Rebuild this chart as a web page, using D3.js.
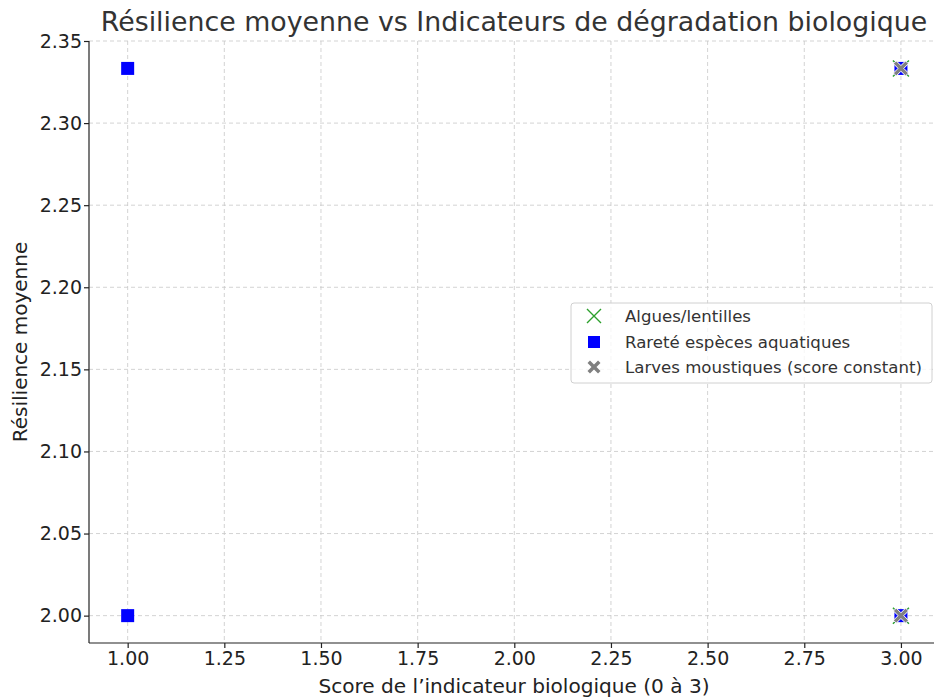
<!DOCTYPE html>
<html>
<head>
<meta charset="utf-8">
<title>Résilience moyenne vs Indicateurs</title>
<script src="https://cdn.jsdelivr.net/npm/d3@7"></script>
<style>
body { margin: 0; background: #fff; }
text { font-family: "DejaVu Sans", sans-serif; }
.grid line { stroke: #c8c8c8; stroke-dasharray: 4,3; stroke-width: 0.8; }
.axis text { font-size: 19px; fill: #222; }
.axis path, .axis line { stroke: #222; stroke-width: 1.2; }
</style>
</head>
<body>
<script>
// données
var alguesX = [3, 3];
var alguesY = [2.0, 2.3333];
var rareteX = [1, 1, 3, 3];
var rareteY = [2.3333, 2.0, 2.3333, 2.0];
var larvesX = [3, 3];
var larvesY = [2.3333, 2.0];
var xTicks = [1.00, 1.25, 1.50, 1.75, 2.00, 2.25, 2.50, 2.75, 3.00];
var yTicks = [2.00, 2.05, 2.10, 2.15, 2.20, 2.25, 2.30, 2.35];
var legendLabels = ["Algues/lentilles", "Rareté espèces aquatiques", "Larves moustiques (score constant)"];

var W = 934, H = 700;
var svg = d3.select("body").append("svg").attr("width", W).attr("height", H);

var pLeft = 89, pRight = 939.6, pTop = 41, pBottom = 643;
var x = d3.scaleLinear().domain([0.9, 3.1]).range([pLeft, pRight]);
var y = d3.scaleLinear().domain([1.98333, 2.35]).range([pBottom, pTop]);

// grille
var grid = svg.append("g").attr("class", "grid");
grid.selectAll(".gx").data(xTicks).enter().append("line")
  .attr("x1", d => x(d)).attr("x2", d => x(d)).attr("y1", pTop).attr("y2", pBottom);
grid.selectAll(".gy").data(yTicks).enter().append("line")
  .attr("y1", d => y(d)).attr("y2", d => y(d)).attr("x1", pLeft).attr("x2", pRight);

// axes
svg.append("g").attr("class", "axis").attr("transform", "translate(0," + pBottom + ")")
  .call(d3.axisBottom(x).tickValues(xTicks).tickFormat(d3.format(".2f")).tickSizeOuter(0).tickSize(5).tickPadding(3.5));
svg.append("g").attr("class", "axis").attr("transform", "translate(" + pLeft + ",0)")
  .call(d3.axisLeft(y).tickValues(yTicks).tickFormat(d3.format(".2f")).tickSizeOuter(0).tickSize(5).tickPadding(2));
svg.selectAll(".axis .domain").remove();
svg.append("line").attr("x1", pLeft).attr("x2", pLeft).attr("y1", pTop).attr("y2", pBottom).attr("stroke", "#222").attr("stroke-width", 1.2);
svg.append("line").attr("x1", pLeft).attr("x2", pRight).attr("y1", pBottom).attr("y2", pBottom).attr("stroke", "#222").attr("stroke-width", 1.2);

// marqueurs
function drawX(g, cx, cy, r, col) {
  g.append("path").attr("d", "M" + (cx - r) + "," + (cy - r) + "L" + (cx + r) + "," + (cy + r) +
    "M" + (cx - r) + "," + (cy + r) + "L" + (cx + r) + "," + (cy - r))
    .attr("stroke", col).attr("stroke-width", 1.4).attr("fill", "none");
}
function drawSquare(g, cx, cy, s, col) {
  g.append("rect").attr("x", cx - s / 2).attr("y", cy - s / 2).attr("width", s).attr("height", s).attr("fill", col);
}
function drawFatX(g, cx, cy, r, col, edge) {
  var w = r * 0.38;
  var pts = [[0, -w], [r - w, -r], [r, -r + w], [w, 0], [r, r - w], [r - w, r], [0, w], [-r + w, r], [-r, r - w], [-w, 0], [-r, -r + w], [-r + w, -r]];
  g.append("path").attr("d", "M" + pts.map(p => (cx + p[0]) + "," + (cy + p[1])).join("L") + "Z")
    .attr("fill", col).attr("stroke", edge).attr("stroke-width", edge ? 1 : 0);
}

var pts = svg.append("g");
alguesX.forEach((d, i) => drawX(pts, x(d), y(alguesY[i]), 8, "#2ca02c"));
rareteX.forEach((d, i) => drawSquare(pts, x(d), y(rareteY[i]), 13, "#0000ff"));
larvesX.forEach((d, i) => drawFatX(pts, x(d), y(larvesY[i]), 7.5, "#808080", "#ffffff"));

// titre et libellés
svg.append("text").attr("x", 514).attr("y", 31).attr("text-anchor", "middle")
  .attr("font-size", "26.8px").attr("fill", "#333").text("Résilience moyenne vs Indicateurs de dégradation biologique");
svg.append("text").attr("x", 514).attr("y", 693).attr("text-anchor", "middle")
  .attr("font-size", "20.1px").attr("fill", "#222").text("Score de l’indicateur biologique (0 à 3)");
svg.append("text").attr("transform", "translate(27,342) rotate(-90)").attr("text-anchor", "middle")
  .attr("font-size", "20px").attr("fill", "#222").text("Résilience moyenne");

// légende
var lg = svg.append("g");
lg.append("rect").attr("x", 571).attr("y", 303).attr("width", 361).attr("height", 80).attr("rx", 3)
  .attr("fill", "rgba(255,255,255,0.8)").attr("stroke", "#d0d0d0");
var ly = [316, 342, 367];
drawX(lg, 594, ly[0], 7, "#2ca02c");
drawSquare(lg, 594, ly[1], 12, "#0000ff");
drawFatX(lg, 594, ly[2], 6.5, "#808080", null);
lg.selectAll(".lt").data(legendLabels).enter().append("text")
  .attr("x", 625).attr("y", (d, i) => ly[i] + 6).attr("font-size", "16.6px").attr("fill", "#333").text(d => d);
</script>
</body>
</html>
